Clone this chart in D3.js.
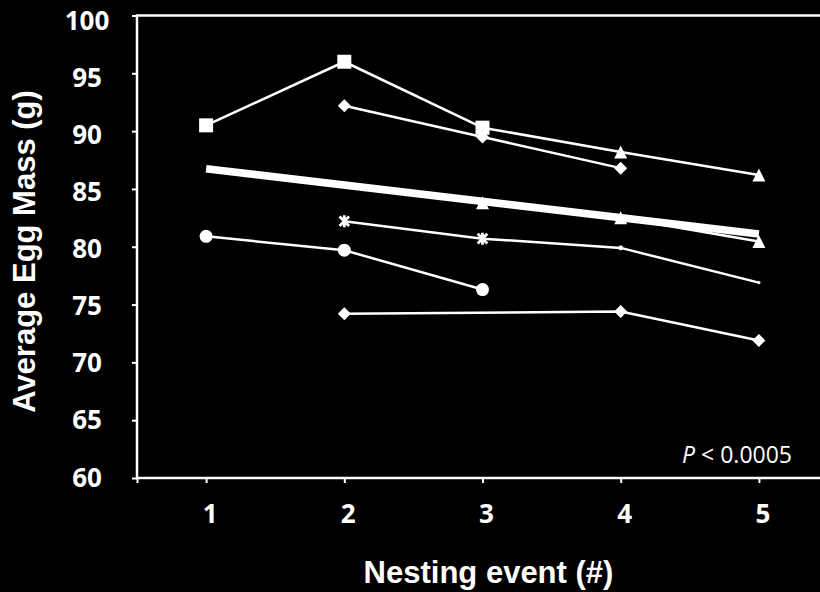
<!DOCTYPE html>
<html>
<head>
<meta charset="utf-8">
<script src="https://cdn.jsdelivr.net/npm/d3@7"></script>
<style>
  body { margin: 0; background: #000; }
  svg { display: block; }
</style>
</head>
<body>
<script>
// Chart data
const nests = [1, 2, 3, 4, 5];
const yTicks = [60, 65, 70, 75, 80, 85, 90, 95, 100];

const squareMass      = [90.5, 96.0, 90.3, null, null];
const triUpperMass    = [null, null, 90.3, 88.2, 86.2];
const diamondUpMass   = [null, 92.2, 89.5, 86.8, null];
const triMidMass      = [null, null, 83.8, 82.5, 80.45];
const starMass        = [null, 82.2, 80.7, 79.9, 76.9];
const circleMass      = [80.9, 79.7, 76.3, null, null];
const diamondLowMass  = [null, 74.2, null, 74.4, 71.9];

const trendNests = [1, 5];
const trendMass  = [86.75, 81.1];

// Layout
const WIDTH = 820;
const HEIGHT = 592;
const LEFT = 137, RIGHT = 828, TOP = 15.5, BOTTOM = 478;

const svg = d3.select('body')
  .append('svg')
  .attr('width', WIDTH)
  .attr('height', HEIGHT)
  .style('background', '#000');

const x = d3.scaleLinear().domain([0.5, 5.5]).range([LEFT, RIGHT]);
const y = d3.scaleLinear().domain([60, 100]).range([BOTTOM, TOP]);
// Excel draws the value labels on a slightly tighter spacing than the ticks
const labelY = d3.scaleLinear().domain([60, 100]).range([477.5, 21]);

// Plot area border (right side falls off the canvas)
svg.append('rect')
  .attr('x', LEFT).attr('y', TOP)
  .attr('width', RIGHT - LEFT).attr('height', BOTTOM - TOP)
  .attr('fill', 'none')
  .attr('stroke', '#fff')
  .attr('stroke-width', 2.5);

// Axes
const yAxis = d3.axisLeft(y).tickValues(yTicks).tickSize(5).tickFormat('');
svg.append('g')
  .attr('class', 'y-axis')
  .attr('transform', 'translate(' + LEFT + ',0)')
  .call(yAxis);

const xAxis = d3.axisBottom(x).tickValues([0.5].concat(nests)).tickSize(5).tickFormat('');
svg.append('g')
  .attr('class', 'x-axis')
  .attr('transform', 'translate(0,' + BOTTOM + ')')
  .call(xAxis);

svg.selectAll('.y-axis path, .x-axis path').remove();
svg.selectAll('.tick line').attr('stroke', '#fff').attr('stroke-width', 2);

svg.append('g').selectAll('text')
  .data(yTicks)
  .enter().append('text')
  .attr('x', 87)
  .attr('y', function(d) { return labelY(d) + 9; })
  .attr('text-anchor', 'middle')
  .attr('class', 'tick-label')
  .text(function(d) { return d; });

svg.append('g').selectAll('text')
  .data(nests)
  .enter().append('text')
  .attr('x', function(d) { return x(d) + 4; })
  .attr('y', 523)
  .attr('text-anchor', 'middle')
  .attr('class', 'tick-label')
  .text(function(d) { return d; });

d3.selectAll('.tick-label')
  .style('font-family', '"Open Sans", sans-serif')
  .style('font-weight', 'bold')
  .style('font-size', '26px')
  .style('fill', '#fff');

// Axis titles
svg.append('text')
  .attr('transform', 'translate(35,251.5) rotate(-90)')
  .attr('text-anchor', 'middle')
  .attr('class', 'axis-title')
  .text('Average Egg Mass (g)');

svg.append('text')
  .attr('x', 488.5)
  .attr('y', 583)
  .attr('text-anchor', 'middle')
  .attr('class', 'axis-title')
  .text('Nesting event (#)');

d3.selectAll('.axis-title')
  .style('font-family', '"Liberation Sans", Arial, sans-serif')
  .style('font-weight', 'bold')
  .style('font-size', '31px')
  .style('fill', '#fff');

// P value note
const note = svg.append('text')
  .attr('x', 792)
  .attr('y', 463)
  .attr('text-anchor', 'end')
  .style('font-family', '"Open Sans", sans-serif')
  .style('font-size', '23px')
  .style('fill', '#fff');
note.append('tspan').style('font-style', 'italic').text('P');
note.append('tspan').text(' < 0.0005');

// Marker shapes
function squarePath(s) { return 'M' + (-s/2) + ',' + (-s/2) + 'h' + s + 'v' + s + 'h' + (-s) + 'Z'; }
function diamondPath(s) { return 'M0,' + (-s/2) + 'L' + (s/2) + ',0L0,' + (s/2) + 'L' + (-s/2) + ',0Z'; }
function trianglePath(s) { return 'M0,' + (-s/2) + 'L' + (s/2) + ',' + (s/2) + 'L' + (-s/2) + ',' + (s/2) + 'Z'; }
function circlePath(s) { return d3.arc()({innerRadius: 0, outerRadius: s/2, startAngle: 0, endAngle: 2 * Math.PI}); }
function starPath(s) {
  const h = s / 2, d = h * 0.8;
  return 'M' + (-d) + ',' + (-d) + 'L' + d + ',' + d +
         'M' + d + ',' + (-d) + 'L' + (-d) + ',' + d +
         'M0,' + (-h) + 'L0,' + h;
}

// only the first two star markers are drawn in full in the original
const STAR_SCALE = [1, 1, 1, 0.35, 0.2];

const line = d3.line()
  .x(function(d) { return x(d.n); })
  .y(function(d) { return y(d.v); });

function points(values) {
  return nests.map(function(n, i) { return {n: n, v: values[i], i: i}; })
    .filter(function(d) { return d.v != null; });
}

// Trend line
svg.append('path')
  .datum(trendNests.map(function(n, i) { return {n: n, v: trendMass[i]}; }))
  .attr('d', line)
  .attr('fill', 'none')
  .attr('stroke', '#fff')
  .attr('stroke-width', 7.5);

const series = [
  {values: triUpperMass,   shape: trianglePath, size: 13},
  {values: squareMass,     shape: squarePath,   size: 14},
  {values: diamondUpMass,  shape: diamondPath,  size: 13},
  {values: triMidMass,     shape: trianglePath, size: 13},
  {values: starMass,       shape: starPath,     size: 12, stroke: true},
  {values: circleMass,     shape: circlePath,   size: 13},
  {values: diamondLowMass, shape: diamondPath,  size: 13}
];

series.forEach(function(s) {
  const pts = points(s.values);
  svg.append('path')
    .datum(pts)
    .attr('d', line)
    .attr('fill', 'none')
    .attr('stroke', '#fff')
    .attr('stroke-width', 2.5);

  svg.selectAll(null)
    .data(pts)
    .enter().append('path')
    .attr('transform', function(d) { return 'translate(' + x(d.n) + ',' + y(d.v) + ')'; })
    .attr('d', function(d) { return s.shape(s.stroke ? s.size * STAR_SCALE[d.i] : s.size); })
    .attr('fill', s.stroke ? 'none' : '#fff')
    .attr('stroke', s.stroke ? '#fff' : 'none')
    .attr('stroke-width', s.stroke ? 2.8 : 0);
});
</script>
</body>
</html>
